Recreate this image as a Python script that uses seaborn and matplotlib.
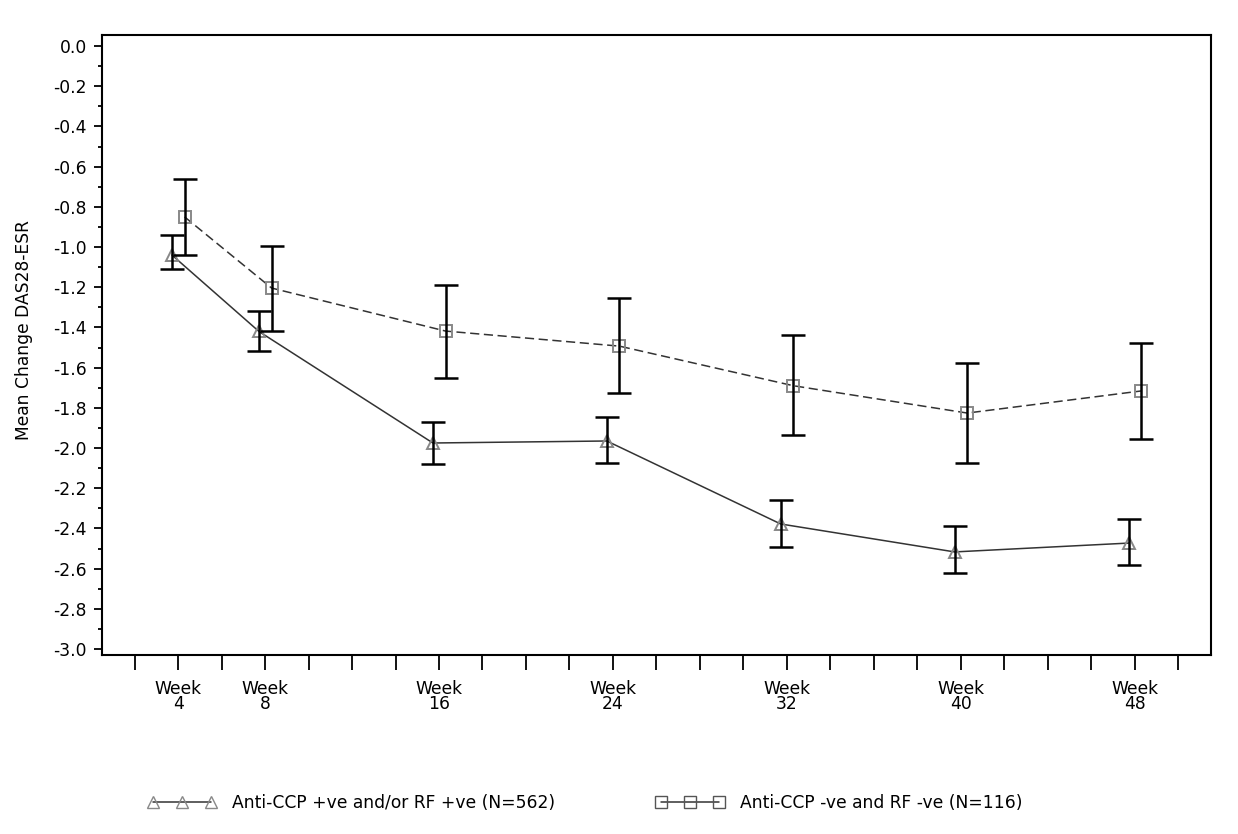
import seaborn as sns
import pandas as pd
import matplotlib.pyplot as plt
import numpy as np
from matplotlib.lines import Line2D

weeks = [4, 8, 16, 24, 32, 40, 48]
groups = ["Anti-CCP +ve and/or RF +ve (N=562)", "Anti-CCP -ve and RF -ve (N=116)"]

pos_mean = [-1.04, -1.42, -1.975, -1.965, -2.378, -2.517, -2.473]
pos_lo = [-1.11, -1.517, -2.08, -2.075, -2.493, -2.622, -2.582]
pos_hi = [-0.94, -1.318, -1.87, -1.846, -2.259, -2.388, -2.353]

neg_mean = [-0.85, -1.204, -1.418, -1.493, -1.69, -1.826, -1.716]
neg_lo = [-1.04, -1.418, -1.652, -1.726, -1.935, -2.075, -1.955]
neg_hi = [-0.66, -0.995, -1.19, -1.254, -1.438, -1.577, -1.478]

yticks = np.round(np.arange(0, -3.01, -0.2), 1)

sns.set_theme(style="ticks")
plt.rcParams['font.family'] = ['DejaVu Sans']
plt.rcParams['text.color'] = 'black'
plt.rcParams['xtick.labelcolor'] = 'black'
plt.rcParams['ytick.labelcolor'] = 'black'
fs = 12.3

shift = {groups[0]: -0.28, groups[1]: 0.3}
df = pd.DataFrame({
    "week": weeks * 2,
    "value": pos_mean + neg_mean,
    "lo": pos_lo + neg_lo,
    "hi": pos_hi + neg_hi,
    "group": [groups[0]] * 7 + [groups[1]] * 7,
})
df["x"] = df["week"] + df["group"].map(shift)

fig = plt.figure(figsize=(12.38, 8.34), dpi=100)
ax = fig.add_axes([0.0824, 0.2146, 0.8956, 0.7434])

sns.lineplot(data=df, x="x", y="value", hue="group", style="group",
             palette=["#333333", "#333333"], dashes={groups[0]: "", groups[1]: (6, 3)},
             markers={groups[0]: "^", groups[1]: "s"}, markersize=8.5, mfc="none",
             mec="#888888", mew=1.4, linewidth=1.1, legend=False, ax=ax)

for g in groups:
    d = df[df["group"] == g]
    ax.errorbar(d["x"], d["value"], yerr=[d["value"] - d["lo"], d["hi"] - d["value"]],
                fmt="none", ecolor="black", elinewidth=1.8, capsize=8.5, capthick=1.8, zorder=3)

ax.set_xlim(0.5, 51.5)
ax.set_ylim(-3.03, 0.055)
ax.set_yticks(yticks)
ax.set_yticklabels([f"{v:.1f}" for v in yticks])
ax.set_yticks(np.arange(-2.9, 0, 0.2), minor=True)
xt = list(range(2, 51, 2))
ax.set_xticks(xt)
ax.set_xticklabels([f"Week\n{w}" if w in weeks else "" for w in xt], linespacing=0.8)
ax.tick_params(axis="x", length=11, width=1.3, pad=7, labelsize=fs, color="black")
ax.tick_params(axis="y", which="major", length=6, width=1.3, pad=5, labelsize=fs, color="black")
ax.tick_params(axis="y", which="minor", length=3, width=1.3, color="black")
for s in ax.spines.values():
    s.set_linewidth(1.5)
    s.set_color("black")
ax.set_xlabel("")
ax.set_ylabel("")
fig.text(24 / 1238, 1 - 330 / 834, "Mean Change DAS28-ESR", rotation=90,
         ha="center", va="center", fontsize=fs)

handles = [
    Line2D([], [], color="#333333", lw=1.1, marker="^", ms=8, mfc="none", mec="#888888"),
    Line2D([], [], color="#333333", lw=1.1, marker="s", ms=8, mfc="none", mec="#555555"),
]
anchors = [148 / 1238, 656 / 1238]
for h, lab, a in zip(handles, groups, anchors):
    fig.legend([h], [lab], loc="center left", bbox_to_anchor=(a, 0.037),
               frameon=False, numpoints=3, handlelength=4.0, handletextpad=0.9,
               borderpad=0, borderaxespad=0, fontsize=fs)

fig.savefig("out.png", dpi=100)
